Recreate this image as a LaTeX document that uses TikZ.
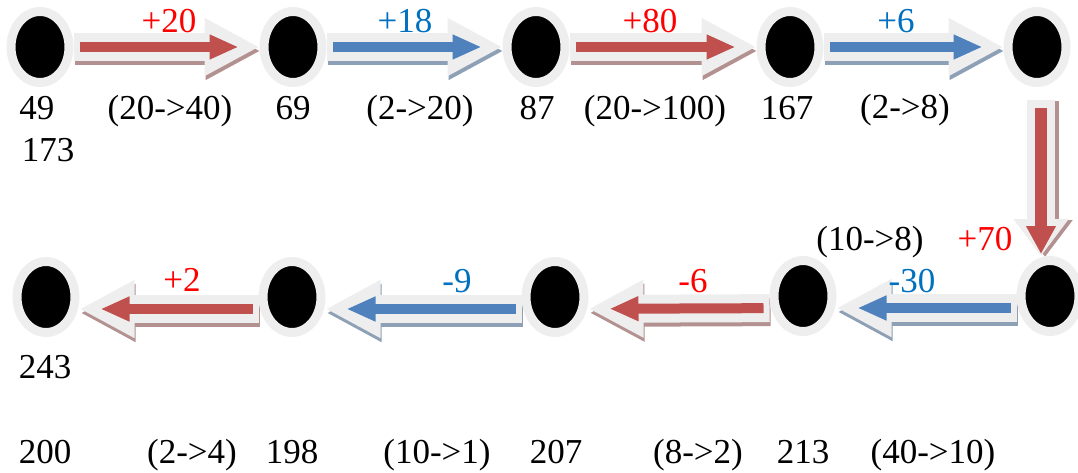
\documentclass[tikz,border=0pt]{standalone}
\usepackage{fontspec}
\setmainfont{Liberation Serif}
\newfontfamily\timesfont{Liberation Serif}
\usetikzlibrary{shapes.geometric,arrows.meta,shadows,calc}
\definecolor{arrred}{HTML}{C0504D}
\definecolor{arrblue}{HTML}{4F81BD}
\definecolor{shred}{HTML}{B39191}
\definecolor{shblue}{HTML}{8EA0B6}
\definecolor{ringgray}{HTML}{EEEEEE}
\definecolor{outgray}{HTML}{EEEEEE}
\definecolor{txtred}{HTML}{FF0000}
\definecolor{txtblue}{HTML}{0070C0}
\pgfdeclarelayer{bg}
\pgfsetlayers{bg,main}
\tikzset{
  dot/.style={ellipse, minimum width=58pt, minimum height=71pt, inner sep=0pt,
    fill=black, draw=ringgray, line width=9pt,
    drop shadow={shadow xshift=1.5pt, shadow yshift=-2.5pt, fill=black!22}},
  lbl/.style={anchor=base, inner sep=0pt, font=\timesfont\fontsize{35}{40}\selectfont},
  redlbl/.style={lbl, text=txtred},
  bluelbl/.style={lbl, text=txtblue},
  outerarr/.style={line width=28pt, draw=outgray, -{Triangle[width=54pt,length=55pt]}},
  shadowarr/.style={outerarr, draw=#1},
  innerarr/.style={line width=10pt, draw=#1, -{Triangle[width=23pt,length=29pt]},
    shorten >=21pt, shorten <=6pt},
}
\begin{document}
\begin{tikzpicture}[x=1pt,y=-1pt]
\useasboundingbox (0,0) rectangle (1078,473);
% nodes
\node[dot] (t1) at (40,47) {};
\node[dot] (t2) at (293,47) {};
\node[dot] (t3) at (536,47) {};
\node[dot] (t4) at (790,47) {};
\node[dot] (t5) at (1037,47) {};
\node[dot] (b1) at (46,297) {};
\node[dot] (b2) at (292,297) {};
\node[dot] (b3) at (555,297) {};
\node[dot] (b4) at (803,296) {};
\node[dot] (b5) at (1050,296) {};
\coordinate (vs) at ([xshift=4pt,yshift=-13pt]t5.south);
\coordinate (ve) at (vs |- b5.north);
% arrows
\begin{pgfonlayer}{bg}
  % top row
  \foreach \a/\b/\c in {t1/t2/red, t2/t3/blue, t3/t4/red, t4/t5/blue}{
    \draw[shadowarr=sh\c, transform canvas={xshift=1pt,yshift=-4pt}] (\a) -- (\b);
    \draw[outerarr] (\a) -- (\b);
    \draw[innerarr=arr\c] (\a) -- (\b);
  }
  % bottom row
  \foreach \a/\b/\c in {b5/b4/blue, b4/b3/red, b3/b2/blue, b2/b1/red}{
    \draw[shadowarr=sh\c, transform canvas={xshift=1pt,yshift=-16pt}] (\a) -- (\b);
    \draw[outerarr, transform canvas={yshift=-12pt}] (\a) -- (\b);
    \draw[innerarr=arr\c, transform canvas={yshift=-12pt}] (\a) -- (\b);
  }
  % vertical
  \draw[shadowarr=shred, -{Triangle[width=53pt,length=37pt]}, transform canvas={xshift=4pt,yshift=-1pt}] (vs) -- (ve);
  \draw[outerarr, -{Triangle[width=53pt,length=37pt]}] (vs) -- (ve);
  \draw[innerarr=arrred, line width=12pt, -{Triangle[width=28pt,length=28pt]}, shorten <=8pt, shorten >=2pt] (vs) -- (ve);
\end{pgfonlayer}
% labels top row
\node[lbl] (l49) at (37,120) {49};
\node[lbl] (l173) at (48,162) {173};
\node[lbl] (l2040) at (170,120) {(20->40)};
\node[lbl] (l69) at (293,120) {69};
\node[lbl] (l220) at (420,120) {(2->20)};
\node[lbl] (l87) at (537,120) {87};
\node[lbl] (l20100) at (655,120) {(20->100)};
\node[lbl] (l167) at (787,120) {167};
\node[lbl] (l28) at (905,119) {(2->8)};
\node[redlbl] (p20) at (169,33) {+20};
\node[bluelbl] (p18) at (405,33) {+18};
\node[redlbl] (p80) at (650,33) {+80};
\node[bluelbl] (p6) at (896,33) {+6};
\node[lbl] (l108) at (870,250) {(10->8)};
\node[redlbl] (p70) at (985,250) {+70};
% bottom row
\node[bluelbl] (m30) at (912,292) {-30};
\node[redlbl] (m6) at (693,292) {-6};
\node[bluelbl] (m9) at (457,292) {-9};
\node[redlbl] (p2) at (182,291) {+2};
\node[lbl] (l243) at (45,378) {243};
\node[lbl] (l200) at (45,463) {200};
\node[lbl] (l24) at (192,463) {(2->4)};
\node[lbl] (l198) at (292,463) {198};
\node[lbl] (l101) at (437,463) {(10->1)};
\node[lbl] (l207) at (556,463) {207};
\node[lbl] (l82) at (698,463) {(8->2)};
\node[lbl] (l213) at (803,463) {213};
\node[lbl] (l4010) at (933,463) {(40->10)};
\end{tikzpicture}
\end{document}
